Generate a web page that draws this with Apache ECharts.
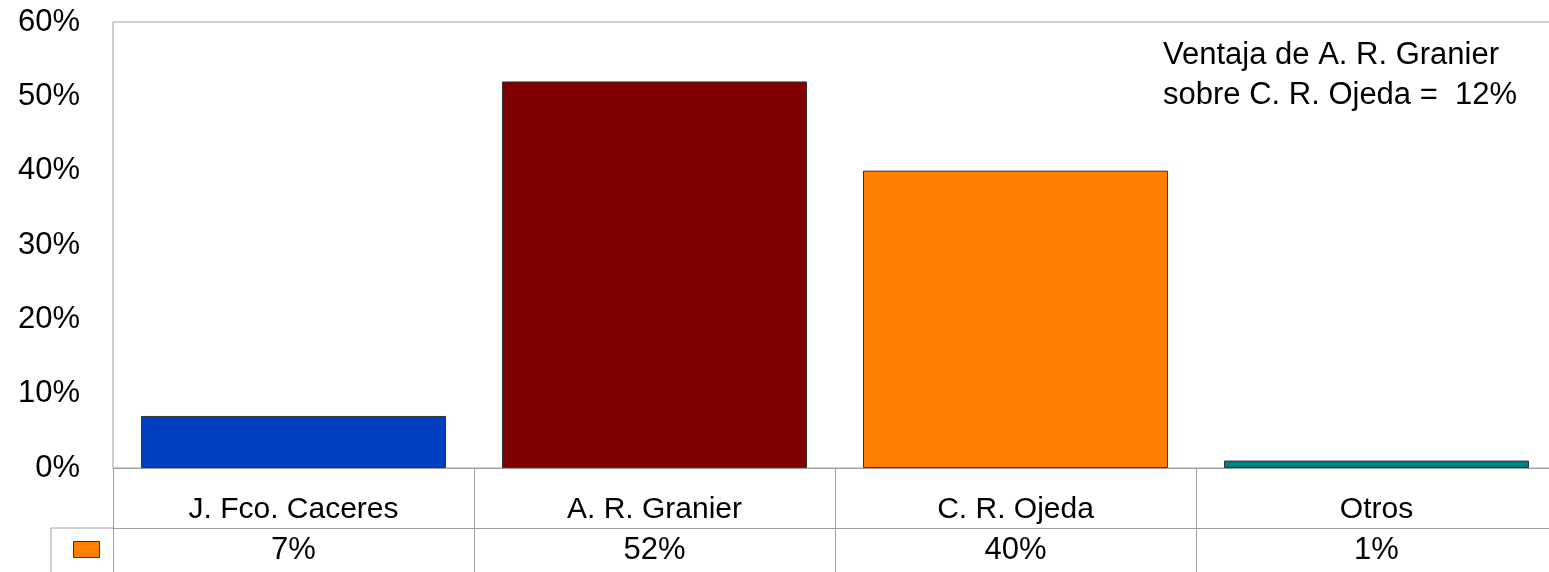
<!DOCTYPE html>
<html>
<head>
<meta charset="utf-8">
<script src="https://cdn.jsdelivr.net/npm/echarts@6/dist/echarts.min.js"></script>
<style>
html,body{margin:0;padding:0;background:#fff;}
#chart{width:1549px;height:572px;}
</style>
</head>
<body>
<div id="chart"></div>
<script>
const categories = ['J. Fco. Caceres', 'A. R. Granier', 'C. R. Ojeda', 'Otros'];
const values = [7, 52, 40, 1];
const barColors = ['#0040C0', '#800000', '#FF8000', '#008080'];
const yTicks = [0, 10, 20, 30, 40, 50, 60];
const note = ['Ventaja de A. R. Granier', 'sobre C. R. Ojeda =  12%'];

const FONT = 'Liberation Sans, Arial, sans-serif';
const GRAY = '#a0a0a0';

const chart = echarts.init(document.getElementById('chart'), null, {renderer: 'canvas'});
chart.setOption({
  animation: false,
  backgroundColor: '#fff',
  grid: {left: 113, top: 22, right: -8, bottom: 104, show: true, borderColor: GRAY, borderWidth: 1,
         containLabel: false, outerBoundsMode: 'none'},
  legend: {
    show: true, left: 73, top: 541, padding: 0, itemWidth: 26, itemHeight: 16, icon: 'rect',
    data: ['Serie'], formatter: () => '', selectedMode: false,
    itemStyle: {borderColor: '#333', borderWidth: 1}
  },
  xAxis: [{
    type: 'category', data: categories, position: 'bottom',
    axisLine: {show: true, lineStyle: {color: GRAY, width: 1}},
    axisTick: {show: true, alignWithLabel: false, length: 104, lineStyle: {color: GRAY, width: 1}},
    axisLabel: {fontSize: 30, color: '#000', fontFamily: FONT, margin: 27},
    splitLine: {show: false}
  }, {
    type: 'category', data: values.map(v => v + '%'), position: 'bottom', offset: 60,
    axisLine: {show: true, lineStyle: {color: GRAY, width: 1}},
    axisTick: {show: false},
    axisLabel: {fontSize: 31, color: '#000', fontFamily: FONT, margin: 7},
    splitLine: {show: false}
  }],
  yAxis: {
    type: 'value', min: yTicks[0], max: yTicks[yTicks.length - 1], interval: 10,
    axisLine: {show: false}, axisTick: {show: false}, splitLine: {show: false},
    axisLabel: {fontSize: 31, color: '#000', fontFamily: FONT, margin: 33, formatter: '{value}%'}
  },
  series: [{
    name: 'Serie', type: 'bar', xAxisIndex: 0, barCategoryGap: '15.5%',
    itemStyle: {color: '#FF8000', borderColor: '#333', borderWidth: 1},
    data: values.map((v, i) => ({value: v, itemStyle: {color: barColors[i]}}))
  }],
  graphic: [
    {type: 'text', left: 1163, top: 35, style: {text: note.join('\n'), font: '31px ' + FONT, lineHeight: 40, fill: '#000'}},
    {type: 'line', shape: {x1: 51, y1: 528, x2: 113, y2: 528}, style: {stroke: GRAY, lineWidth: 1}},
    {type: 'line', shape: {x1: 51, y1: 528, x2: 51, y2: 572}, style: {stroke: GRAY, lineWidth: 1}}
  ]
});
</script>
</body>
</html>
